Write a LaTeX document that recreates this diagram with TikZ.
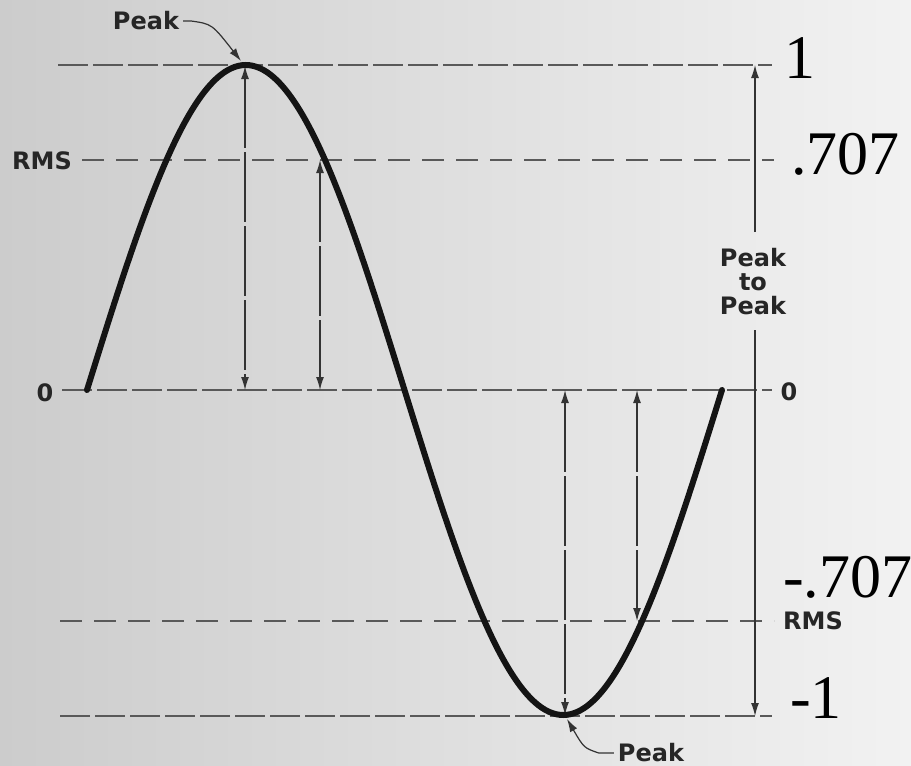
\documentclass[tikz,border=0pt]{standalone}
\usepackage{fontspec}
\setmainfont{Liberation Serif}
\newfontfamily\lblfont{DejaVu Sans}
\usetikzlibrary{arrows.meta}
\begin{document}
\begin{tikzpicture}[x=1pt,y=-1pt,
  refline/.style={draw=black!65,line width=1.3pt,dash pattern=on 30pt off 5pt},
  rmsline/.style={draw=black!65,line width=1.3pt,dash pattern=on 22pt off 12pt},
  dim/.style={draw=black!80,line width=1.2pt,dash pattern=on 70pt off 4pt,{Latex[length=13pt,width=8pt]}-{Latex[length=13pt,width=8pt]}},
  lead/.style={draw=black!80,line width=1.2pt,-{Latex[length=13pt,width=8pt]}},
  lbl/.style={font=\lblfont\bfseries\fontsize{24}{24}\selectfont,text=black!85,inner sep=0pt},
  big/.style={font=\fontsize{62}{62}\selectfont,inner sep=0pt,anchor=base west},
  wave/.style={line width=6pt,draw=black!92,line cap=round}]
\useasboundingbox (0,0) rectangle (911,766);
\shade[left color={rgb,255:red,204;green,204;blue,204},right color={rgb,255:red,242;green,242;blue,242}] (0,0) rectangle (911,766);

% labels
\node[lbl] (pk) at (146,21) {Peak};
\node[lbl] (rmsl) at (42,161) {RMS};
\node[lbl] (zl) at (45,393) {0};
\node[lbl] (zr) at (789,392) {0};
\node[lbl] (rmsr) at (813,621) {RMS};
\node[lbl] (pkb) at (651,753) {Peak};
\node[lbl,align=center,font=\lblfont\bfseries\fontsize{24}{24}\selectfont] (ptp) at (753,282) {Peak\\to\\Peak};

\node[big] (n1) at (784,78) {1};
\node[big] (n707) at (791,174) {.707};
\node[big] (nm707) at (783,597) {-.707};
\node[big] (nm1) at (790,718) {-1};

% reference lines
\coordinate (tA) at (58,65);   \coordinate (tB) at (772,65);
\coordinate (rA) at (82,160);  \coordinate (rB) at (774,160);
\coordinate (zA) at (62,390);  \coordinate (zB) at (772,390);
\coordinate (sA) at (60,621);  \coordinate (sB) at (774,621);
\coordinate (bA) at (60,716);  \coordinate (bB) at (772,716);
\draw[refline] (tA) -- (tB);
\draw[rmsline] (rA) -- (rB);
\draw[refline] (zA) -- (zB);
\draw[rmsline] (sA) -- (sB);
\draw[refline] (bA) -- (bB);

% dimension arrows
\coordinate (p1t) at (245,66);  \coordinate (p1b) at (245,390);
\coordinate (r1t) at (320,160); \coordinate (r1b) at (320,390);
\coordinate (p2t) at (565,390); \coordinate (p2b) at (565,715);
\coordinate (r2t) at (637,390); \coordinate (r2b) at (637,621);
\draw[dim] (p1t) -- (p1b);
\draw[dim] (r1t) -- (r1b);
\draw[dim] (p2t) -- (p2b);
\draw[dim] (r2t) -- (r2b);

% peak to peak
\coordinate (ppt) at (755,65);  \coordinate (ppa) at (755,232);
\coordinate (ppb) at (755,716); \coordinate (ppc) at (755,330);
\draw[lead] (ppa) -- (ppt);
\draw[lead] (ppc) -- (ppb);

% sine wave
\draw[wave] plot[domain=0:360,samples=181,smooth] ({87+1.763889*\x},{390-325*sin(\x)});

% leaders
\coordinate (pktip) at (241,61);
\coordinate (pkbtip) at (567,719);
\draw[lead] ([xshift=4pt]pk.east) -- ++(8,0) .. controls (212,24) .. (pktip);
\draw[lead] ([xshift=-4pt]pkb.west) -- ++(-15,0) .. controls (584,748) .. (pkbtip);
\end{tikzpicture}
\end{document}
